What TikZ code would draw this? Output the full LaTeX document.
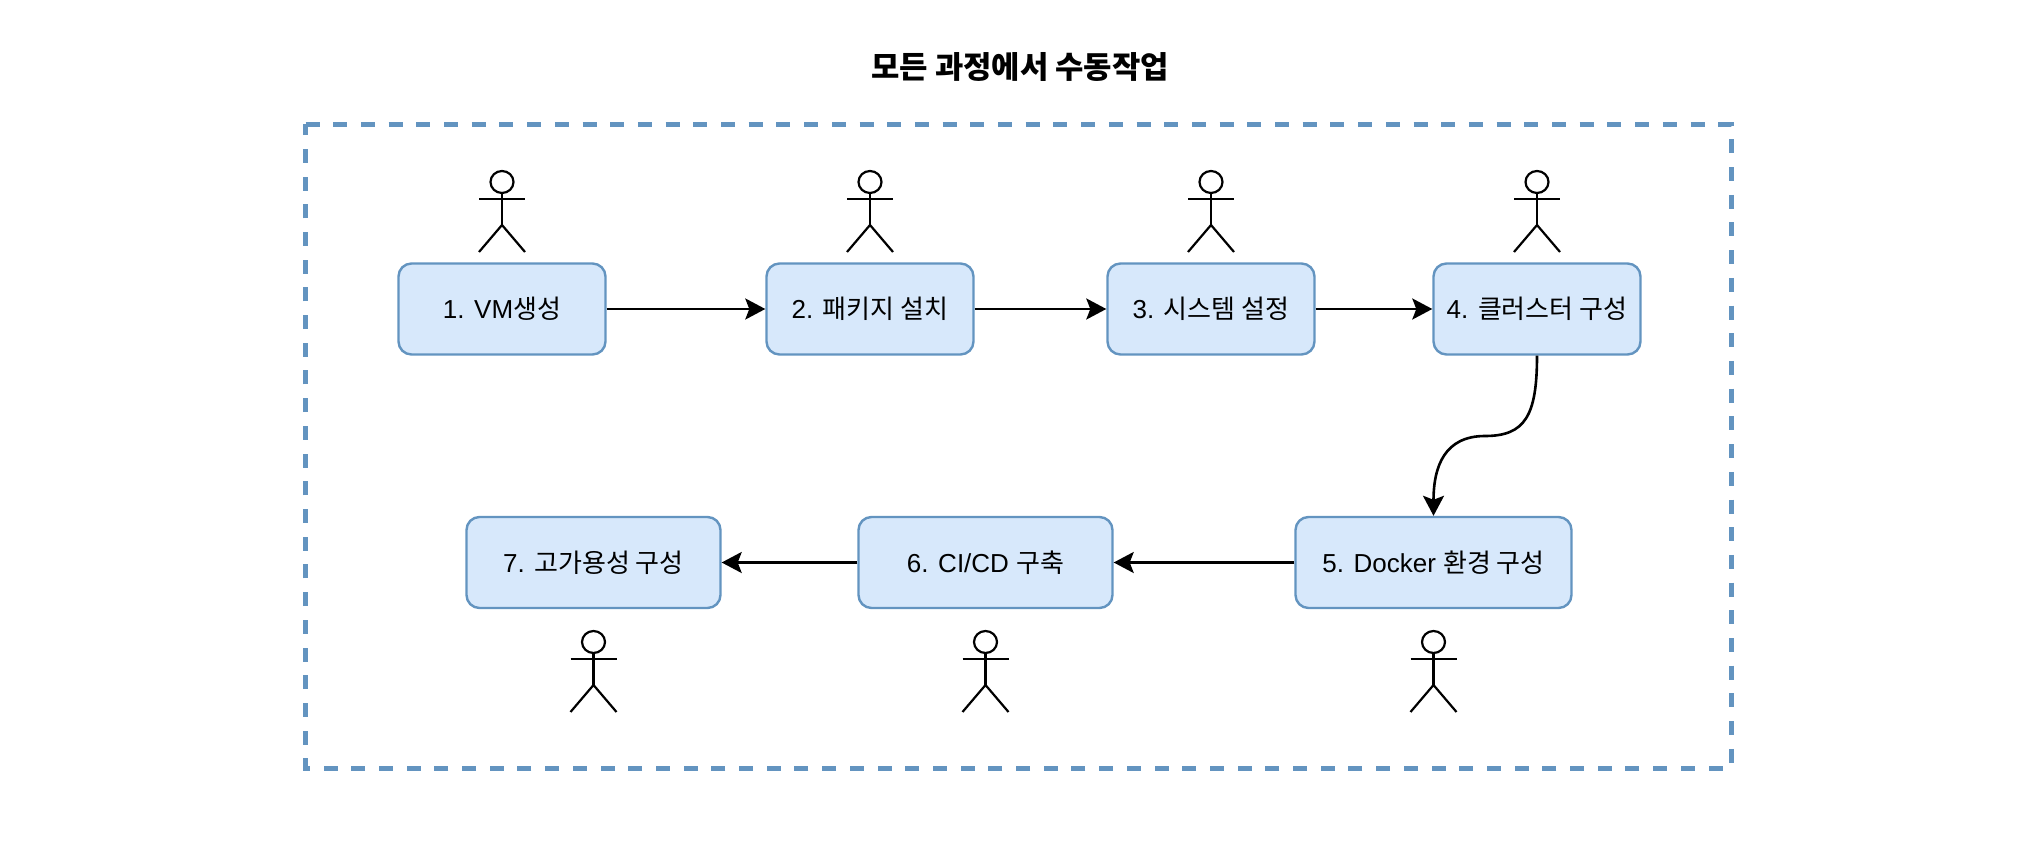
\documentclass[tikz,border=0pt]{standalone}
\usepackage{fontspec}
\setmainfont{Liberation Sans}
\newfontfamily\krfont{Noto Sans CJK KR}
\usetikzlibrary{arrows.meta}
\definecolor{boxline}{HTML}{6394C0}
\definecolor{boxfill}{HTML}{D7E8FB}
\tikzset{
  procbox/.style={draw=boxline, fill=boxfill, line width=1.2pt, rounded corners=6.5pt,
    minimum height=45.5pt, inner sep=0pt, font=\fontsize{13}{15}\selectfont},
  shortbox/.style={procbox, minimum width=103.5pt},
  widebox/.style={procbox, minimum width=127pt},
  flow/.style={black, line width=1.3pt, -{Stealth[length=10pt,width=10.5pt,inset=2pt]}},
  stickline/.style={black, line width=1.1pt}
}
\newcommand{\stickman}[2]{
  \draw [stickline] (#1,#2+11) ellipse [x radius=11.5, y radius=11];
  \draw [stickline] (#1,#2+22) -- (#1,#2+54);
  \draw [stickline] (#1-23,#2+28) -- (#1+23,#2+28);
  \draw [stickline] (#1-23,#2+81) -- (#1,#2+54) -- (#1+23,#2+81);
}
\begin{document}
\begin{tikzpicture}[x=.5pt,y=-.5pt]
  \useasboundingbox (0,0) rectangle (2028,844);
  \node (title) at (1020,67) {\krfont\bfseries\fontsize{15.4}{18}\selectfont 모든 과정에서 수동작업};
  \draw [boxline, line width=2.5pt, dash pattern=on 7pt off 6.85pt] (305.5,124.5) -- (1731,124.5) -- (1731,768) -- (305.5,768) -- cycle;

  \node [shortbox] (vm) at (502,309) {1. VM{\krfont 생성}};
  \node [shortbox] (pkg) at (870,309) {2. {\krfont 패키지 설치}};
  \node [shortbox] (sys) at (1211,309) {3. {\krfont 시스템 설정}};
  \node [shortbox] (cluster) at (1537,309) {4. {\krfont 클러스터 구성}};
  \node [widebox, minimum width=138pt] (docker) at (1433.5,562.5) {5. Docker {\krfont 환경 구성}};
  \node [widebox] (cicd) at (985.5,562.5) {6. CI/CD {\krfont 구축}};
  \node [widebox] (ha) at (593.5,562.5) {7. {\krfont 고가용성 구성}};

  \foreach \ax in {502,870,1211,1537} {\stickman{\ax}{171}}
  \foreach \ax in {593.5,985.5,1433.5} {\stickman{\ax}{631}}

  \draw [flow] (vm) -- (pkg);
  \draw [flow] (pkg) -- (sys);
  \draw [flow] (sys) -- (cluster);
  \coordinate (bend) at (1485,436);
  \draw [flow] (cluster.south) .. controls +(0,60) and +(40,0) .. (bend) .. controls +(-40,0) and +(0,-50) .. (docker.north);
  \draw [flow] (docker) -- (cicd);
  \draw [flow] (cicd) -- (ha);
\end{tikzpicture}
\end{document}
